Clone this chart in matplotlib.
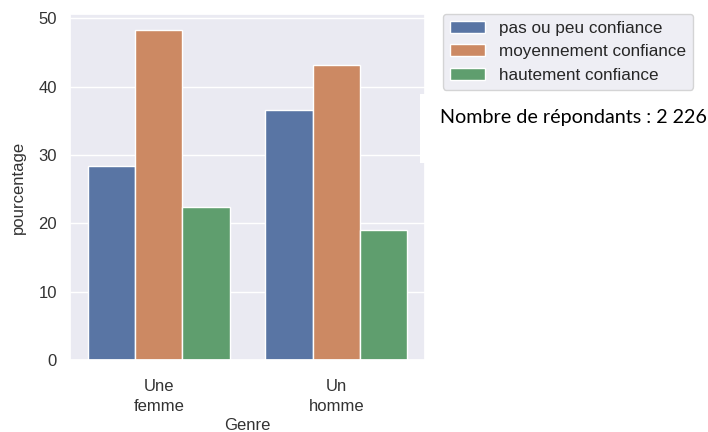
import matplotlib
matplotlib.use("Agg")
import matplotlib.pyplot as plt
import seaborn as sns
import numpy as np
from matplotlib.patches import Rectangle

genres = ["Une\nfemme", "Un\nhomme"]
niveaux = ["pas ou peu confiance", "moyennement confiance", "hautement confiance"]
pas_ou_peu = [28.4, 36.6]
moyennement = [48.2, 43.1]
hautement = [22.4, 19.0]
series = [pas_ou_peu, moyennement, hautement]
colors = ["#5975a4", "#cc8963", "#5f9e6e"]

sns.set_theme(style="darkgrid")
plt.rcParams['font.family'] = ['Liberation Sans', 'DejaVu Sans']

fig = plt.figure(figsize=(7.08, 4.32), dpi=100)
ax = fig.add_axes([70/708, 72/432, 355/708, 346/432])

x = np.arange(len(genres))
w = 0.8 / 3
for i, (vals, lab, c) in enumerate(zip(series, niveaux, colors)):
    ax.bar(x + (i - 1) * w, vals, width=w, color=c, edgecolor="white",
           linewidth=1, label=lab)

ax.grid(False, axis="x")
ax.set_xlim(-0.5, 1.5)
ax.set_ylim(0, max(max(s) for s in series) * 1.05)
ax.set_xticks(x)
ax.set_xticklabels(genres, fontsize=12, color="#333333", linespacing=1.4)
ax.tick_params(axis="x", pad=8)
ax.set_yticks([0, 10, 20, 30, 40, 50])
ax.tick_params(axis="y", labelsize=12, labelcolor="#333333")
ax.set_xlabel("Genre", fontsize=12, color="#333333", labelpad=3)
ax.set_ylabel("pourcentage", fontsize=12, color="#333333", labelpad=9)

leg = ax.legend(bbox_to_anchor=(1.05, 1.0), loc="upper left", borderaxespad=0,
                fontsize=12.3, handlelength=2.1)
leg.get_frame().set_edgecolor("#cccccc")

fig.patches.append(Rectangle((420/708, (432-163)/432), 290/708, 69/432,
                             transform=fig.transFigure, facecolor="white",
                             edgecolor="none", zorder=10))
fig.text(440/708, (432-118)/432, "Nombre de répondants : 2 226",
         fontsize=14.2, family="Lato", color="black", va="center", ha="left",
         zorder=11)

fig.savefig("out.png", dpi=100)
